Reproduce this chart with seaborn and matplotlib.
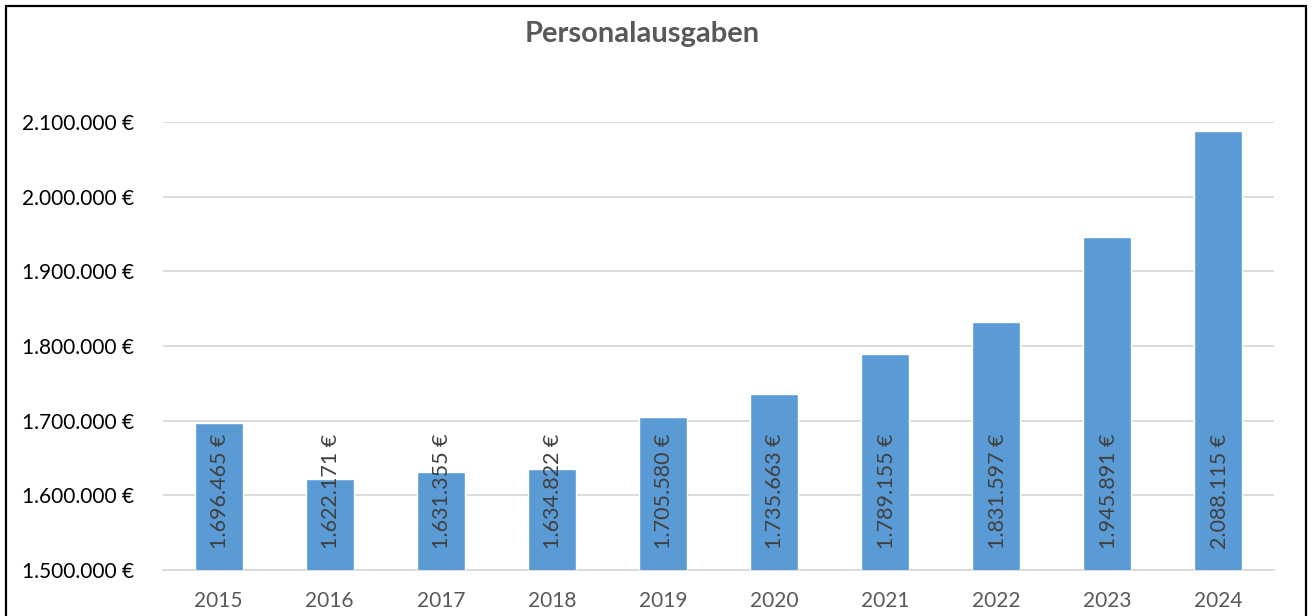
import pandas as pd
import seaborn as sns
import matplotlib.pyplot as plt
from matplotlib.patches import Rectangle
from matplotlib.ticker import FuncFormatter

years = ['2015', '2016', '2017', '2018', '2019', '2020', '2021', '2022', '2023', '2024']
ausgaben = [1696465, 1622171, 1631355, 1634822, 1705580, 1735663, 1789155, 1831597, 1945891, 2088115]
y_ticks = [1500000, 1600000, 1700000, 1800000, 1900000, 2000000, 2100000]


def euro(v, pos=None):
    return f"{v:,.0f}".replace(',', '.') + ' €'


def main():
    sns.set_theme(style='white')
    plt.rcParams['font.family'] = ['Lato', 'DejaVu Sans']

    df = pd.DataFrame({'Jahr': years, 'Ausgaben': ausgaben})

    fig = plt.figure(figsize=(13.12, 6.16), dpi=100)
    ax = fig.add_axes([163 / 1312, 46 / 616, 1111 / 1312, 448 / 616])

    sns.barplot(data=df, x='Jahr', y='Ausgaben', color='#5B9BD5', width=0.432,
                saturation=1, ax=ax, zorder=3)

    ax.set_ylim(1500000, 2100000)
    ax.set_xlim(-0.5, len(years) - 0.5)
    ax.set_yticks(y_ticks)
    ax.yaxis.set_major_formatter(FuncFormatter(euro))
    ax.grid(axis='y', color='#D9D9D9', lw=1.3, zorder=0)
    ax.set_xlabel('')
    ax.set_ylabel('')
    for s in ['top', 'right', 'left']:
        ax.spines[s].set_visible(False)
    ax.spines['bottom'].set_color('#D9D9D9')
    ax.spines['bottom'].set_linewidth(1.3)
    ax.tick_params(axis='y', length=0, pad=21, labelsize=15, labelcolor='#000000')
    ax.tick_params(axis='x', length=0, pad=15, labelsize=15, labelcolor='#595959')

    # labels "inside base", rotated
    for i, v in enumerate(ausgaben):
        ax.annotate(euro(v), xy=(i, 1500000), xytext=(1, 15), textcoords='offset points',
                    rotation=90, ha='center', va='bottom', fontsize=15.5,
                    color='#404040', zorder=4)

    fig.text(642 / 1312, 1 - 42 / 616, 'Personalausgaben', ha='center', va='baseline',
             fontsize=21, fontweight='bold', color='#595959')

    # chart frame
    fig.patches.append(Rectangle((6 / 1312, -0.05), 1300 / 1312, 1.05 - 6 / 616,
                                 transform=fig.transFigure, fill=False,
                                 edgecolor='#000000', lw=1.6))

    fig.savefig('out.png', dpi=100, facecolor='white')


if __name__ == "__main__":
    main()
